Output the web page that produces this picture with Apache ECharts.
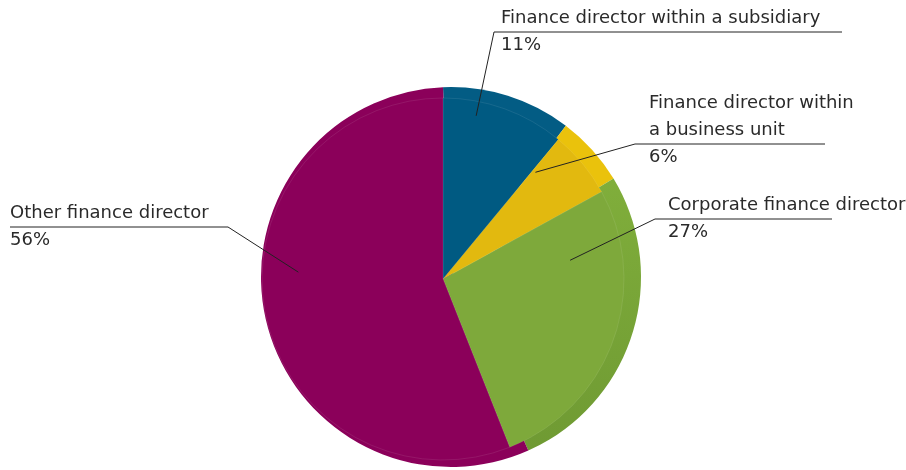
<!DOCTYPE html>
<html>
<head>
<meta charset="utf-8">
<style>
	html, body { margin: 0; padding: 0; background: #fff; }
	#chart { width: 906px; height: 470px; }
</style>
</head>
<body>
<div id="chart"></div>
<script src="https://cdn.jsdelivr.net/npm/echarts@6/dist/echarts.min.js"></script>
<script>
var roles = ['Finance director within a subsidiary', 'Finance director within a business unit', 'Corporate finance director', 'Other finance director'];
var shares = [11, 6, 27, 56];
var sliceColors = ['#005a82', '#e2b90f', '#7ea93b', '#8b005a'];
var rimColors = ['#035c84', '#eac20c', ['#80ae3b', '#6f9a33'], '#8b005a'];

(function () {
	// top face of the pie, and the slightly larger, offset disc that shows as its edge
	var cx = 443, cy = 279, R = 181;
	var rimCx = 451, rimCy = 277, rimR = 190;
	// turn the edge a little so its first cut meets the face's first cut at the top
	var rimStart = 90 + Math.atan2(rimCx - cx, rimR) * 180 / Math.PI;
	var lineH = 27;
	// where each callout starts inside its slice and where its text sits
	var callouts = [
		{ along: 0.29, depth: 0.92, elbow: [494, 32], lineEnd: 842, textX: 501 },
		{ along: 0.06, depth: 0.78, elbow: [635, 144], lineEnd: 825, textX: 649, wrap: 215 },
		{ along: 0.21, depth: 0.71, elbow: [655, 219], lineEnd: 832, textX: 668 },
		{ along: 0.567, depth: 0.80, elbow: [228, 227], lineEnd: 10, textX: 10 }
	];

	var total = 0;
	var starts = [];
	for (var i = 0; i < shares.length; i++) {
		starts.push(total);
		total += shares[i];
	}

	function anchor(i) {
		var c = callouts[i];
		var a = (starts[i] + shares[i] * c.along) / total * 2 * Math.PI;
		return [cx + Math.sin(a) * R * c.depth, cy - Math.cos(a) * R * c.depth];
	}

	var slices = [];
	var rims = [];
	var labels = [];
	for (var j = 0; j < roles.length; j++) {
		slices.push({ name: roles[j], value: shares[j], itemStyle: { color: sliceColors[j] } });
		var rc = rimColors[j];
		if (Array.isArray(rc)) {
			rc = new echarts.graphic.LinearGradient(0, 0, 0, 1, [
				{ offset: 0, color: rc[0] },
				{ offset: 1, color: rc[1] }
			]);
		}
		rims.push({ name: roles[j], value: shares[j], itemStyle: { color: rc } });
		var item = { name: roles[j], value: shares[j] };
		if (callouts[j].wrap) {
			item.label = { width: callouts[j].wrap, overflow: 'break' };
		}
		labels.push(item);
	}

	var myChart = echarts.init(document.getElementById('chart'));
	var option = {
		animation: false,
		series: [
			{
				// edge of the pie
				type: 'pie',
				z: 1,
				center: [rimCx, rimCy],
				radius: rimR,
				startAngle: rimStart,
				silent: true,
				label: { show: false },
				labelLine: { show: false },
				data: rims
			},
			{
				// the coloured slices
				type: 'pie',
				z: 2,
				center: [cx, cy],
				radius: R,
				startAngle: 90,
				silent: true,
				itemStyle: {
					borderColor: 'rgba(255,255,255,0.15)',
					borderWidth: 0.6
				},
				label: { show: false },
				labelLine: { show: false },
				data: slices
			},
			{
				// see-through copy on top that carries the callouts
				type: 'pie',
				z: 3,
				center: [cx, cy],
				radius: R,
				startAngle: 90,
				silent: true,
				avoidLabelOverlap: false,
				itemStyle: { color: 'rgba(0,0,0,0)' },
				label: {
					show: true,
					position: 'outside',
					formatter: '{b}\n{c}%',
					fontFamily: 'DejaVu Sans',
					fontSize: 18,
					lineHeight: lineH,
					color: '#2a2a2a'
				},
				labelLine: {
					show: true,
					lineStyle: { color: '#222', width: 1 }
				},
				labelLayout: function (params) {
					var i = params.dataIndex;
					var c = callouts[i];
					return {
						x: c.textX,
						y: c.elbow[1] + lineH,
						align: 'left',
						verticalAlign: 'bottom',
						labelLinePoints: [anchor(i), c.elbow, [c.lineEnd, c.elbow[1]]]
					};
				},
				data: labels
			}
		]
	};
	myChart.setOption(option);
	window.addEventListener('resize', function () {
		myChart.resize();
	});
})();
</script>
</body>
</html>
